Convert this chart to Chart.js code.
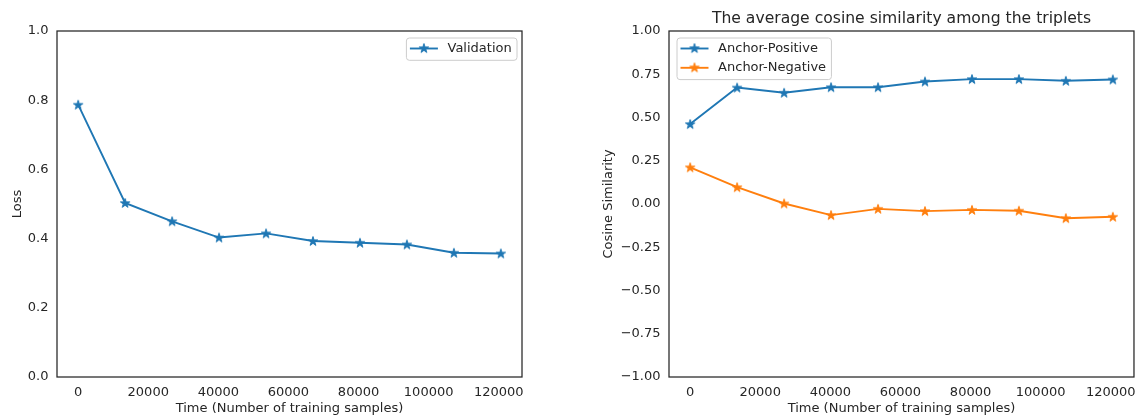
<!DOCTYPE html>
<html>
<head>
<meta charset="utf-8">
<script src="https://cdn.jsdelivr.net/npm/chart.js@4.4.0/dist/chart.umd.min.js"></script>
<style>
html,body{margin:0;padding:0;background:#fff;}
#wrap{position:relative;width:1144px;height:417px;overflow:hidden;}
canvas{position:absolute;top:0;}
</style>
</head>
<body>
<div id="wrap">
<canvas id="c1" width="572" height="417" style="left:0"></canvas>
<canvas id="c2" width="572" height="417" style="left:572px"></canvas>
</div>
<script>
// ---- data ----
const samples = [0, 13400, 26800, 40200, 53600, 67000, 80400, 93800, 107200, 120600];
const validationLoss = [0.787, 0.503, 0.450, 0.403, 0.415, 0.393, 0.388, 0.383, 0.359, 0.357];
const anchorPositive = [0.462, 0.673, 0.643, 0.675, 0.675, 0.708, 0.722, 0.722, 0.712, 0.720];
const anchorNegative = [0.212, 0.097, 0.003, -0.064, -0.028, -0.041, -0.034, -0.039, -0.082, -0.074];
const xTicks = [0, 20000, 40000, 60000, 80000, 100000, 120000];
const lossTicks = [0, 0.2, 0.4, 0.6, 0.8, 1.0];
const cosTicks = [-1, -0.75, -0.5, -0.25, 0, 0.25, 0.5, 0.75, 1];
const xLabel = 'Time (Number of training samples)';
const lossLabel = 'Loss';
const cosLabel = 'Cosine Similarity';
const cosTitle = 'The average cosine similarity among the triplets';
const lossSeries = ['Validation'];
const cosSeries = ['Anchor-Positive', 'Anchor-Negative'];

// ---- style ----
const BLUE = '#1f77b4', ORANGE = '#ff7f0e', TXT = '#262626';
const FONT = 'DejaVu Sans';
const FS = 13;
const tickFont = {family: FONT, size: FS};

function starPath(ctx, cx, cy, R) {
  const r = R * 0.382;
  ctx.beginPath();
  for (let i = 0; i < 10; i++) {
    const rad = i % 2 === 0 ? R : r;
    const a = -Math.PI / 2 + i * Math.PI / 5;
    const x = cx + rad * Math.cos(a), y = cy + rad * Math.sin(a);
    if (i === 0) ctx.moveTo(x, y); else ctx.lineTo(x, y);
  }
  ctx.closePath();
}
function makeStar(color) {
  const c = document.createElement('canvas');
  c.width = 12; c.height = 12;
  const g = c.getContext('2d');
  starPath(g, 6, 6.4, 4.9);
  g.fillStyle = color; g.fill();
  g.lineWidth = 1; g.strokeStyle = color; g.stroke();
  return c;
}
const starBlue = makeStar(BLUE), starOrange = makeStar(ORANGE);

const framePlugin = {
  id: 'frame',
  afterDatasetsDraw(chart) {
    const {ctx, chartArea: a} = chart;
    ctx.save();
    ctx.strokeStyle = TXT; ctx.lineWidth = 1.25;
    ctx.strokeRect(a.left, a.top, a.right - a.left, a.bottom - a.top);
    ctx.restore();
  }
};

const customLegend = {
  id: 'customLegend',
  afterDraw(chart, args, opts) {
    if (!opts.items) return;
    const {ctx, chartArea: a} = chart;
    ctx.save();
    ctx.font = FS + 'px "' + FONT + '"';
    let tw = 0;
    opts.items.forEach(it => { tw = Math.max(tw, ctx.measureText(it.label).width); });
    const w = 41.6 + tw + 4.8;
    const h = opts.items.length * 19.3 + 3;
    const left = opts.align === 'right' ? a.right - 5.5 - w : a.left + 7.5;
    const top = a.top + 6.5;
    ctx.beginPath();
    ctx.roundRect(left + 0.5, top + 0.5, w, h, 3);
    ctx.fillStyle = 'rgba(255,255,255,0.8)'; ctx.fill();
    ctx.strokeStyle = '#cccccc'; ctx.lineWidth = 1; ctx.stroke();
    opts.items.forEach((it, i) => {
      const cy = top + 11 + i * 19.3;
      ctx.beginPath();
      ctx.moveTo(left + 4, cy); ctx.lineTo(left + 32, cy);
      ctx.strokeStyle = it.color; ctx.lineWidth = 1.9; ctx.stroke();
      ctx.drawImage(it.star, left + 18 - 6, cy - 6.4);
      ctx.fillStyle = TXT; ctx.textBaseline = 'middle'; ctx.textAlign = 'left';
      ctx.fillText(it.label, left + 41.6, cy);
    });
    ctx.restore();
  }
};

const titlePlugin = {
  id: 'topTitle',
  afterDraw(chart, args, opts) {
    if (!opts.text) return;
    const {ctx, chartArea: a} = chart;
    ctx.save();
    ctx.font = '15.6px "' + FONT + '"';
    ctx.fillStyle = TXT; ctx.textAlign = 'center'; ctx.textBaseline = 'alphabetic';
    ctx.fillText(opts.text, (a.left + a.right) / 2, 23);
    ctx.restore();
  }
};

function xScale() {
  return {
    type: 'linear', min: -6030, max: 126630,
    afterBuildTicks: s => { s.ticks = xTicks.map(v => ({value: v})); },
    afterFit: s => { s.height = 40; },
    grid: {display: false, drawTicks: false}, border: {display: false},
    ticks: {font: tickFont, color: TXT, padding: 8, maxRotation: 0, autoSkip: false,
            callback: v => String(v)},
    title: {display: true, text: xLabel, font: tickFont, color: TXT, padding: {top: 0, bottom: 0.5}}
  };
}
function yScale(min, max, ticks, digits, width, label, titlePad) {
  return {
    type: 'linear', min: min, max: max,
    afterBuildTicks: s => { s.ticks = ticks.map(v => ({value: v})); },
    afterFit: s => { s.width = width; },
    grid: {display: false, drawTicks: false}, border: {display: false},
    ticks: {font: tickFont, color: TXT, padding: 8.5, autoSkip: false,
            callback: v => v.toFixed(digits).replace('-', '\u2212')},
    title: {display: true, text: label, font: tickFont, color: TXT, padding: {top: titlePad, bottom: 0}}
  };
}
function ds(label, values, color, star) {
  return {
    label: label,
    data: samples.map((x, i) => ({x: x, y: values[i]})),
    borderColor: color, backgroundColor: color, borderWidth: 1.9,
    pointStyle: star, pointRadius: 5, pointHoverRadius: 5,
    tension: 0, fill: false
  };
}

Chart.register(framePlugin, customLegend, titlePlugin);

new Chart(document.getElementById('c1'), {
  type: 'line',
  data: {datasets: [ds(lossSeries[0], validationLoss, BLUE, starBlue)]},
  options: {
    responsive: false, animation: false, devicePixelRatio: 1,
    layout: {padding: {top: 31, right: 50, left: 0, bottom: 0}},
    scales: {x: xScale(), y: yScale(0, 1, lossTicks, 1, 57, lossLabel, 9.7)},
    plugins: {
      legend: {display: false}, tooltip: {enabled: false},
      customLegend: {align: 'right', items: [{label: lossSeries[0], color: BLUE, star: starBlue}]},
      topTitle: {}
    }
  }
});

new Chart(document.getElementById('c2'), {
  type: 'line',
  data: {datasets: [
    ds(cosSeries[0], anchorPositive, BLUE, starBlue),
    ds(cosSeries[1], anchorNegative, ORANGE, starOrange)
  ]},
  options: {
    responsive: false, animation: false, devicePixelRatio: 1,
    layout: {padding: {top: 31, right: 9, left: 0, bottom: 0}},
    scales: {x: xScale(), y: yScale(-1, 1, cosTicks, 2, 97, cosLabel, 28.9)},
    plugins: {
      legend: {display: false}, tooltip: {enabled: false},
      customLegend: {align: 'left', items: [
        {label: cosSeries[0], color: BLUE, star: starBlue},
        {label: cosSeries[1], color: ORANGE, star: starOrange}
      ]},
      topTitle: {text: cosTitle}
    }
  }
});
</script>
</body>
</html>
